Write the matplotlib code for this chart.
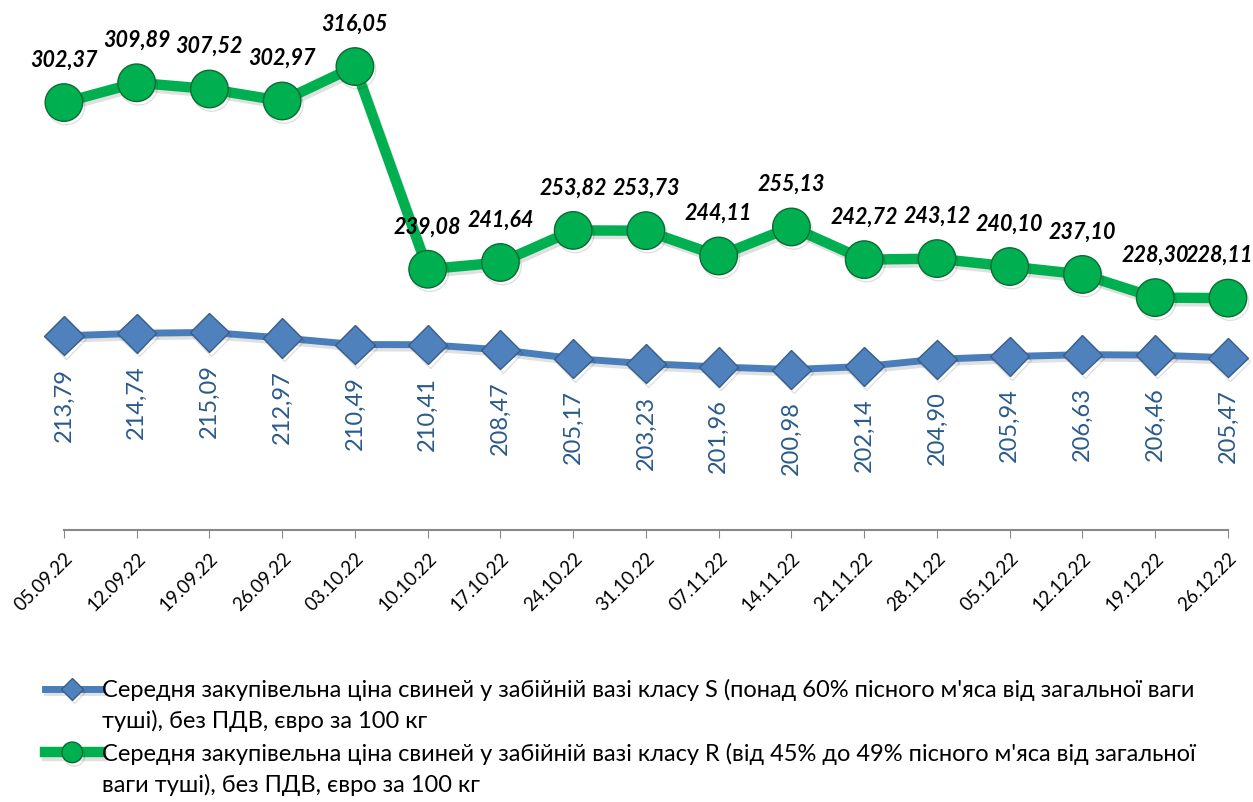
import matplotlib.pyplot as plt
import matplotlib.patheffects as pe

plt.rcParams['font.family'] = ['Lato', 'Open Sans', 'DejaVu Sans']

dates = ["05.09.22", "12.09.22", "19.09.22", "26.09.22", "03.10.22", "10.10.22",
         "17.10.22", "24.10.22", "31.10.22", "07.11.22", "14.11.22", "21.11.22",
         "28.11.22", "05.12.22", "12.12.22", "19.12.22", "26.12.22"]
class_s = [213.79, 214.74, 215.09, 212.97, 210.49, 210.41, 208.47, 205.17, 203.23,
           201.96, 200.98, 202.14, 204.90, 205.94, 206.63, 206.46, 205.47]
class_r = [302.37, 309.89, 307.52, 302.97, 316.05, 239.08, 241.64, 253.82, 253.73,
           244.11, 255.13, 242.72, 243.12, 240.10, 237.10, 228.30, 228.11]

label_s = ["Середня закупівельна ціна свиней у забійній вазі класу S (понад 60% пісного м'яса від загальної ваги",
           "туші), без ПДВ, євро за 100 кг"]
label_r = ["Середня закупівельна ціна свиней у забійній вазі класу R (від 45% до 49% пісного м'яса від загальної",
           "ваги туші), без ПДВ, євро за 100 кг"]

def fmt(v):
    return f"{v:.2f}".replace(".", ",")

fig = plt.figure(figsize=(12.53, 8.02), dpi=100)
ax = fig.add_axes([0.051, 0.339, 0.929, 0.591])

x = list(range(len(dates)))
shadow = [pe.SimpleLineShadow(offset=(1.5, -2.5), alpha=0.12, shadow_color="black"), pe.Normal()]
ls, = ax.plot(x, class_s, color="#4a7ebb", lw=5, marker="D", markersize=20,
              markerfacecolor="#4f81bd", markeredgecolor="#385d8a", markeredgewidth=1,
              label=label_s[0], path_effects=shadow, zorder=3, clip_on=False)
lr, = ax.plot(x, class_r, color="#00b050", lw=7.5, marker="o", markersize=27,
              markerfacecolor="#00b050", markeredgecolor="#0a6b34", markeredgewidth=1,
              label=label_r[0], path_effects=shadow, zorder=3, clip_on=False)

for i, v in enumerate(class_r):
    dx = -6 if i == len(class_r) - 1 else 0  # last label pulled in from the edge
    ax.annotate(fmt(v), (i, v), xytext=(dx, 23), textcoords="offset points",
                ha="center", va="bottom", fontsize=15.5, fontweight="bold",
                fontstyle="italic", color="black", annotation_clip=False)
for i, v in enumerate(class_s):
    ax.annotate(fmt(v), (i, v), xytext=(0, -23), textcoords="offset points",
                ha="center", va="top", rotation=90, fontsize=17, color="#2a5a8c",
                annotation_clip=False)

ax.set_xlim(0, 16)
ax.set_ylim(140, 320)
ax.set_xticks(x)
ax.set_xticklabels(dates, rotation=45, ha="right", rotation_mode="anchor", fontsize=13.5)
ax.tick_params(axis="x", length=6, color="#888888", pad=8)
ax.set_yticks([])
for s in ["top", "right", "left"]:
    ax.spines[s].set_visible(False)
ax.spines["bottom"].set_color("#888888")
ax.spines["bottom"].set_linewidth(1.5)

leg = fig.legend(handles=[ls, lr], loc="upper left", bbox_to_anchor=(0.028, 0.165),
                 frameon=False, fontsize=17, handlelength=2.35, handletextpad=0.1,
                 labelspacing=1.75, markerscale=0.55, borderaxespad=0)

# second lines of the wrapped legend labels
fig.canvas.draw()
inv = fig.transFigure.inverted()
for t, rest in zip(leg.get_texts(), [label_s[1], label_r[1]]):
    bb = t.get_window_extent()
    x0, y0 = inv.transform((bb.x0, bb.y0))
    fig.text(x0, y0 - 0.011, rest, fontsize=17, ha="left", va="top")

fig.savefig("out.png", dpi=100)
